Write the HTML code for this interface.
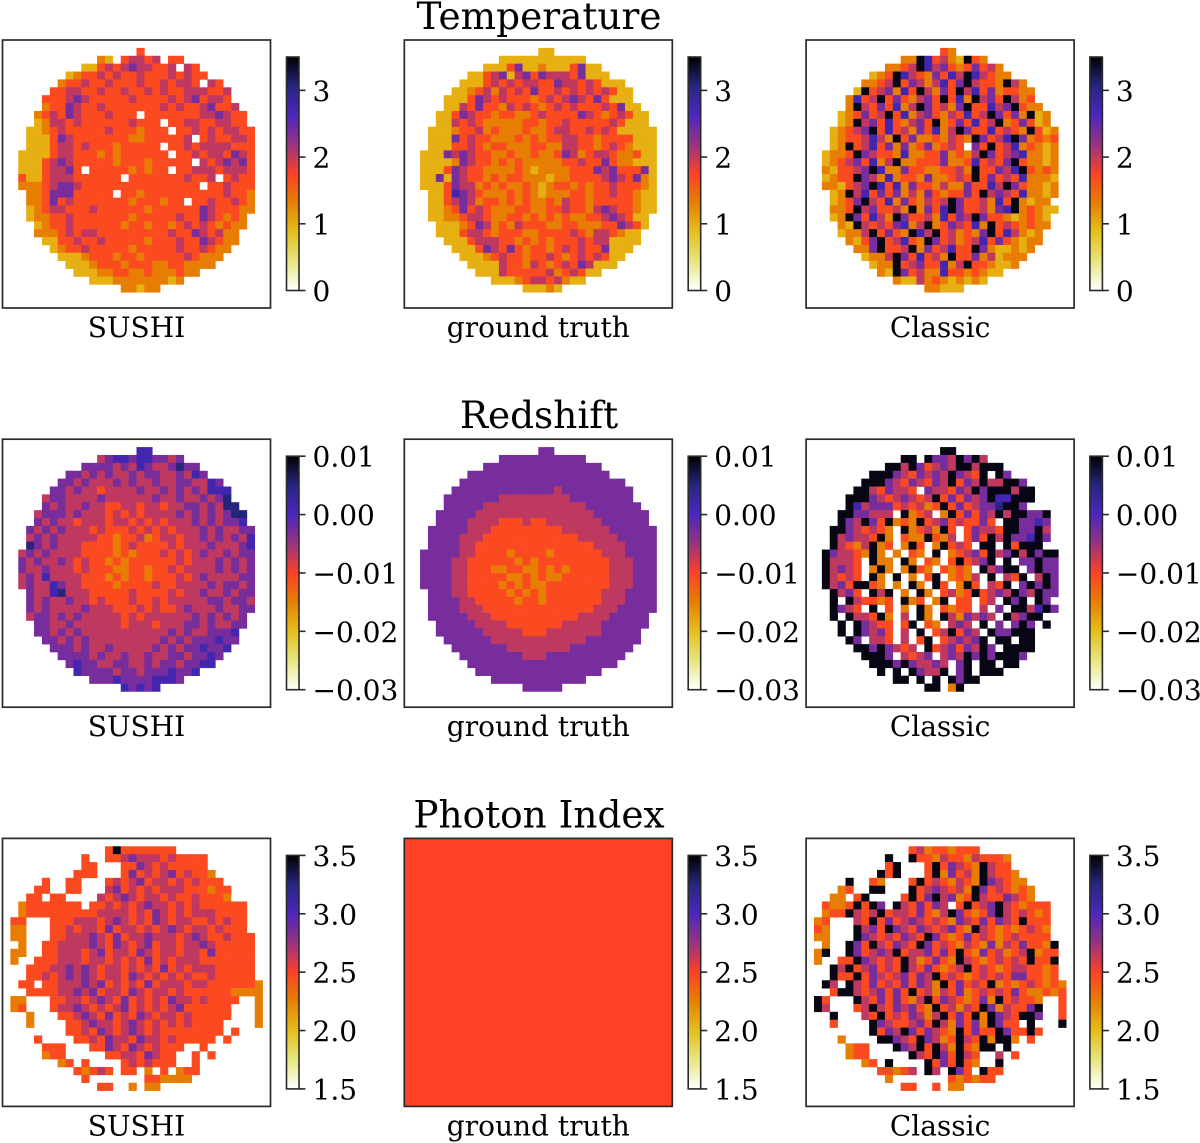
<!DOCTYPE html>
<html>
<head>
<meta charset="utf-8">
<title>Temperature, Redshift and Photon Index maps</title>
<style>
html,body{margin:0;padding:0;background:#fff;width:1200px;height:1143px;overflow:hidden}
svg{display:block}
text{font-family:"DejaVu Serif","Liberation Serif",serif;fill:#000}
</style>
</head>
<body>
<svg id="figure" width="1200" height="1143" viewBox="0 0 1200 1143" xmlns="http://www.w3.org/2000/svg">
<defs>
<linearGradient id="cmap" x1="0" y1="1" x2="0" y2="0"></linearGradient>
</defs>
</svg>
<script>
// Digits are colour levels 0-9; "." means no data; spaces only group columns.
const tempSushi = [
"",
".......... .......4.",
".......... ..32.45545 .44",
".......... 2245456554 45.54",
"........23 4454544544 454544",
".......344 5445444544 54554.54",
"......4455 4454454454 544555445",
".....44456 5444445444 454564554",
".....34465 4454444444 5454456445",
"....345465 4445444.44 4444455654 4",
"....235545 4444445444 .445544554 4",
"...2234544 4445444344 4.44545455 44",
"...2224654 4444443344 4445.45445 54",
"...2224554 5444344444 .445455554 44",
"..22224554 4434344444 4.44545546 54",
"..22245654 4444344434 4444.54565 64",
"..22245564 .444443434 4.44555455 54",
"..42245554 44444.4444 4445445.45 44",
"..33345665 4444444444 44444.4454 44",
"...3346664 4444.44344 4444444454 43",
"...3346454 4444443444 344.445445 43",
"...2345544 4544444434 4444465444 33",
"...2334454 4444443444 4454465434 3",
"....234454 4444434434 4345454343 3",
"....333454 5544444444 4544654533",
".....22445 4454444434 4454465433",
"......2344 5444443444 445445433",
".......222 3444344344 44454333",
"........22 2344434443 3443333",
".........2 2233443343 33433",
".......... .222333333 323",
".......... .....33233"
];
const tempTruth = [
"",
".......... .......22.",
".......... ..22222222 222",
".......... 2224622322 24622",
"........22 4562564655 546222",
".......222 4545455446 55454222",
"......2234 5354546445 454545422",
".....22246 5454443454 565464222",
".....22546 4435454345 4544454622",
"....224654 4344334544 4465434542 2",
"....225454 3333344344 5444445422 2",
"...2223445 3433343345 5445454222 22",
"...2226454 4333434344 5544344442 22",
"...2224454 3443334433 5544345432 22",
"..22265654 4334334334 6534554334 22",
"..22223654 4343433333 4454464332 22",
"..22246544 3333432333 3444656444 62",
"..22626544 3434433323 3444456546 32",
"..22246553 4343343234 4343445444 32",
"...2247654 3334343233 3443445443 22",
"...2245653 4434343343 5443444443 22",
"...2234645 4333443344 5443565443 22",
"...2233455 4334434343 4334456542 2",
"....222346 5343544433 4433344654 2",
"....222455 4344433444 4543554322",
".....22245 5544343434 4454552222",
"......2224 6546434434 545446222",
".......222 3454434454 34545422",
"........22 2254435434 5465222",
".........2 2254444453 45422",
".......... .222345545 322",
".......... .....22232"
];
const tempClassic = [
"",
".......... .......43",
".......... ..33974532 943",
".......... 3345975643 46453",
"........23 4975436475 975433",
".......334 5946535746 95443953",
"......2945 6374953649 574634433",
".....37459 4643564947 395649534",
".....39546 4735964536 9447569433",
"....234645 9473564354 7459646392 3",
"....239564 7435649346 4745934642 3",
"...2345694 7453647359 6447454394 23",
"...2344575 3946334354 3964579634 34",
"...2394574 6363463454 .649457343 23",
"..23349654 4373344634 3596456733 23",
"..23456473 5933444633 4745469433 23",
"..32445697 3364433445 3944657943 43",
"..23449653 7344363345 4946454733 32",
"..33245697 4736443533 6447596433 23",
"...2395746 4635364344 6495654733 23",
"...2346954 7364354596 4453749323 3.",
"...3349564 4539364796 4453679343 22",
"...2396475 3964453746 5964432343 2",
"....329545 4673593465 4739454343 3",
"....233594 6439759453 4369475323",
".....32469 4574396453 4574643233",
"......3369 4459364574 496322323",
".......233 5964745394 46352333",
"........23 3945644735 9443223",
".........3 2964533744 34322",
".......... .3225343232 32",
".......... .....33222"
];
const redshiftSushi = [
"",
".......... .......77.",
".......... ..56776776 656",
".......... 6666565765 56866",
"........66 5656556566 556576",
".......665 6555656556 55665576",
"......6656 5545555655 656565777",
".....56655 5565555556 556556568",
".....65655 6554455455 4556656588",
"....566656 5554545455 5565656568 8",
"....656554 5554554545 4555656566 7",
"...6565655 5454445454 5455565655 66",
"...5656555 5544344534 5545565656 57",
"...8656555 4444345444 4545556555 67",
"..56565555 4444343444 5454565565 66",
"..65655654 5443434444 4454555656 56",
"..65565554 5444334434 4545555656 56",
"..56575555 4443434434 4454565555 66",
"..56557655 4444344445 4455556566 56",
"...6557855 5444445444 4545565565 66",
"...6565565 5454445445 4555556656 65",
"...6565555 6555444545 4456555655 66",
"...5665656 5555545455 5555656565 6",
"....665565 5555545554 5556656556 6",
"....665656 5555555555 5656556667",
".....66565 6555555555 6565666766",
"......6665 6556555556 565667667",
".......666 6565565565 56656676",
"........67 6655665565 6656677",
".........7 6666566566 67667",
".......... .666766667 776",
".......... .....76767"
];
const redshiftTruth = [
"",
".......... .......66.",
".......... ..66666666 666",
".......... 6666666666 66666",
"........66 6666666666 666666",
".......666 6666666666 66666666",
"......6666 6666666665 666666666",
".....66666 6655555555 566666666",
".....66666 5555555555 5556666666",
"....666665 5555555555 5555666666 6",
"....666655 5544454455 5555566666 6",
"...6666655 5444444444 5555556666 66",
"...6666555 4444444444 4455555666 66",
"...6666554 4444444444 4444555566 66",
"..66666554 4443444434 4444455566 66",
"..66665544 4444343444 4444445556 66",
"..66665544 4334433434 3444445556 66",
"..66665544 4443343433 4444445556 66",
"..66665544 4434343344 4444445556 66",
"...6665544 4443434344 4444455566 66",
"...6666554 4444344344 4444455566 66",
"...6666555 4444444444 4444555666 66",
"...6666655 5444444444 4455556666 6",
"....666665 5554444444 5555566666 6",
"....666666 5555544455 5555566666",
".....66666 6555555555 5556666666",
"......6666 6665555555 566666666",
".......666 6666655566 66666666",
"........66 6666666666 6666666",
".........6 6666666666 66666",
".......... .666666666 666",
".......... .....66666"
];
const redshiftClassic = [
"",
".......... .......99.",
".......... ..99.96659 695",
".......... 9959645659 95999",
"........99 9654656596 549.96",
".......999 6546546594 65955996",
"......9954 6554.65546 596999599",
".....99965 4565459464 656977999",
".....97566 6454534946 45668996.",
"....996655 5.9345.394 6465959966 9",
"....965964 9343945645 4464.99667 6",
"...9965454 3.9345394. 4655499669 5",
"...9565549 3.4339435. 4649596679 6",
"...9543593 4.394.3945 4.99.94999 .",
"..96554393 .3.43.9.34 5649569596 99",
"..95554.93 3.93.43.49 4569.9.669 66",
"..95654.39 3.3943.434 3.95699.69 66",
"..95454.93 .9.3.49.34 35.9.549.5 96",
"..95649943 .3.93.94.3 94.549.696 96",
"...9564.95 9.3.93.453 494565965 966",
"...9.95443 4.934.39.4 4.45.969.9 6",
"...9654.9. 4.3.93.434 4.5.6.9957 96",
"...9.95549 3.5.93.953 6565.9569 9",
"....9.9654 4.49.43.56 5.9.6.696. 9",
"....9.9656 4.5.9.4594 65.966999",
".....96.55 4.5.49.456 569.99.99",
"......9969 6545.94564 6596.9999",
".......999 6.5456.565 96969996",
"........99 96965565.6 9.99.99",
".........9 .9.96559.6 9.999",
".......... .99.9.9.96 99.",
".......... .....99.39"
];
const photonSushi = [
"",
".......... ...4944444 44",
".......... 4..4456555 454444",
".......... 44...44654 544444",
".........4 44...46454 5645443",
".....4..44 ...4545645 54545444",
"....44..44 ...5645454 555444344",
"...44.44.. ..54565455 454454443",
"..34444444 .445454565 5454544444 4",
"..34444444 4455554546 5454555444 4",
".44...4445 5545654546 5455445454 4",
".33...4454 5546455454 5654554544 4",
".33...4455 5654645565 5545654454 44",
"..3..44555 5654654564 5545565444 44",
".33..44555 4564554654 5545546444 44",
".3..444555 4554545464 5455544444 44",
"...4445565 6545545454 6454555444 44",
"...4454565 6545546545 4545445444 44",
"..44.44555 6564545464 5554554444 443",
"...4444556 5645546545 5454444443 333",
".33...4455 4565464545 4655454444 ..3",
".34...4556 5454564545 456444444. ..3",
"...3...445 6546454654 554544444. ..3",
"...3....44 5655456545 45454444.. ..3",
"........44 5465456545 44444444.4",
"....4....4 4546554655 4544444.4",
".....444.. .446546545 444..4",
".....344.. ...4455465 44..4.4",
".......34. 4....45454 44..4",
".........4 3454.44.3. 4.344",
".......... 4.......44 3333",
"............ 44..3.33"
];
const photonTruthValue = [2.5];
const photonClassic = [
"",
".......... ...4534434 44",
".......... 9..9443544 354443",
".......... 49...49465 439544",
".........9 49...49364 5395443",
".....9..43 ...4945435 43965433",
"....34..99 ...9456545 396454343",
"...33.49.. ..49469563 495446543",
"..43349496 .9546465.4 9456954344 4",
"..34495459 4554643596 4346954543 4",
".34...5494 6456545436 5464654944 4",
".43...9564 9654654564 3954343454 3",
".33...9654 5465496434 6454345444 4",
"..3..96495 4654964543 5436354644 39",
".39..96456 5945564649 4364534593 44",
".3..449654 5495346439 5434545494 49",
"...9594564 5495464345 9454345544 34",
"...9449465 4564659454 3454546644 34",
"..95.95464 5464653946 4549343454 343",
"...4995456 4649453546 3454546433 434",
".94...9546 4643594654 3463945443 ..4",
".95...4595 4656439453 5496354469 ..4",
"...9...549 4546535946 4939654996 ..4",
"...4....96 5445649536 4639644.9. ..9",
"........94 6596465439 4644964494",
"....3....9 9654965349 5493993.4",
".....344.. .965949539 4399.9",
".....344.. ...9549649 54..5.4",
".......34. 9....94649 43..9",
".........4 4345.95.96 4.944",
".......... 3.......43 4344",
"............ 44..4.33"
];

const panelRows = [
  [tempSushi, tempTruth, tempClassic],
  [redshiftSushi, redshiftTruth, redshiftClassic],
  [photonSushi, null, photonClassic]
];
const rowTitles = ["Temperature", "Redshift", "Photon Index"];
const columnLabels = ["SUSHI", "ground truth", "Classic"];
const rowSlugs = ["temperature", "redshift", "photon-index"];
const columnSlugs = ["sushi", "ground-truth", "classic"];
const rowMin = [0, -0.03, 1.5];
const rowMax = [3.5, 0.01, 3.5];
const temperatureTicks = [0, 1, 2, 3];
const redshiftTicks = [-0.03, -0.02, -0.01, 0, 0.01];
const photonTicks = [1.5, 2, 2.5, 3, 3.5];
const rowTicks = [temperatureTicks, redshiftTicks, photonTicks];
const rowTickDecimals = [0, 2, 1];
const cmapStops = [[1,1,1],[.9,.9,.5],[.9,.75,.1],[.9,.5,0],[1,.25,.15],[.6,.2,.5],[.3,.15,.75],[.15,.15,.5],[0,0,0]];

const svg = document.getElementById('figure');
const NS = 'http://www.w3.org/2000/svg';
const gridSize = 34;
const frameSize = 268;
const cellSize = frameSize / gridSize;
const frameLeft = c => 2.5 + c * 401.8;
const frameTop = r => 40 + r * 399.2;
const barLeft = c => 286.5 + c * 401.7;
const barWidth = 12.5;
const barTop = r => frameTop(r) + 17;
const barHeight = 233.5;
const fraction = (v, r) => (v - rowMin[r]) / (rowMax[r] - rowMin[r]);
const levelToValue = (lv, r) => rowMin[r] + (rowMax[r] - rowMin[r]) * (lv + 0.8) / 10;
const xCell = (c, col) => frameLeft(c) + col * cellSize;
const yCell = (r, row) => frameTop(r) + row * cellSize;
const yBar = (v, r) => barTop(r) + barHeight * (1 - fraction(v, r));

function colorOf(t) {
  const p = Math.max(0, Math.min(1, t)) * (cmapStops.length - 1);
  const i = Math.min(cmapStops.length - 2, Math.floor(p));
  const f = p - i;
  const a = cmapStops[i], b = cmapStops[i + 1];
  const ch = k => Math.round(255 * (a[k] + (b[k] - a[k]) * f));
  return 'rgb(' + ch(0) + ',' + ch(1) + ',' + ch(2) + ')';
}
function make(tag, attrs, parent) {
  const el = document.createElementNS(NS, tag);
  for (const k in attrs) el.setAttribute(k, attrs[k]);
  parent.appendChild(el);
  return el;
}
const grad = document.getElementById('cmap');
cmapStops.forEach((s, i) => {
  make('stop', {offset: i / (cmapStops.length - 1), 'stop-color': colorOf(i / (cmapStops.length - 1))}, grad);
});
function tickText(v, r) {
  const s = Math.abs(v).toFixed(rowTickDecimals[r]);
  return (v < -1e-9 ? '\u2212' : '') + s;
}

rowTitles.forEach((title, r) => {
  const t = make('text', {x: 539, y: frameTop(r) - 11, 'text-anchor': 'middle', 'font-size': 37.4}, svg);
  
  
  t.textContent = title;

  columnLabels.forEach((label, c) => {
    const g = make('g', {}, svg);
    
    

    const rows = panelRows[r][c];
    if (rows) {
      rows.forEach((raw, row) => {
        const line = raw.replace(/ /g, '');
        for (let col = 0; col < line.length && col < gridSize; col++) {
          const ch = line[col];
          if (ch === '.') continue;
          const cell = make('rect', {
            x: xCell(c, col), y: yCell(r, row),
            width: cellSize + 0.3, height: cellSize + 0.3,
            fill: colorOf(fraction(levelToValue(+ch, r), r))
          }, g);
          
          
        }
      });
    } else {
      const full = make('rect', {
        x: frameLeft(c), y: frameTop(r), width: frameSize, height: frameSize,
        fill: colorOf(fraction(photonTruthValue[0], r))
      }, g);
      
      
    }

    const frame = make('rect', {x: frameLeft(c), y: frameTop(r), width: frameSize, height: frameSize, fill: 'none', stroke: '#2a2a2a', 'stroke-width': 1.7}, g);
    
    

    const lab = make('text', {x: frameLeft(c) + frameSize / 2, y: frameTop(r) + 297, 'text-anchor': 'middle', 'font-size': 28}, g);
    
    
    lab.textContent = label;

    const bar = make('rect', {x: barLeft(c), y: barTop(r), width: barWidth, height: barHeight, fill: 'url(#cmap)', stroke: '#2a2a2a', 'stroke-width': 1.6}, g);
    
    

    rowTicks[r].forEach(v => {
      const y = yBar(v, r);
      const tick = make('line', {x1: barLeft(c) + barWidth, x2: barLeft(c) + barWidth + 6.5, y1: y, y2: y, stroke: '#2a2a2a', 'stroke-width': 1.6}, g);
      
      
      const tl = make('text', {x: barLeft(c) + barWidth + 13.5, y: y + 10.5, 'font-size': 28}, g);
      
      
      tl.textContent = tickText(v, r);
    });
  });
});
</script>
</body>
</html>
